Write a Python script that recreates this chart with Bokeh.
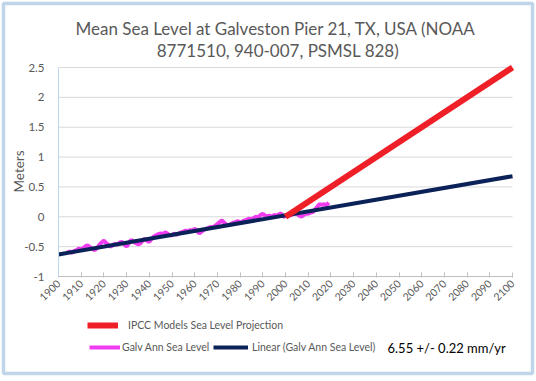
import math
from bokeh.plotting import figure
from bokeh.models import Range1d, NumeralTickFormatter, Label, Legend, LegendItem, BoxAnnotation
from bokeh.embed import file_html
from bokeh.resources import INLINE

# ---------------- data ----------------
years = list(range(1904, 2020))
sea_level = [
    -0.60, -0.58, -0.60, -0.57, -0.56, -0.53,            # 1904-1909
    -0.55, -0.52, -0.49, -0.48, -0.51, -0.54, -0.56, -0.52, -0.47, -0.43,  # 1910s
    -0.40, -0.44, -0.47, -0.50, -0.47, -0.45, -0.47, -0.43, -0.42, -0.46,  # 1920s
    -0.50, -0.44, -0.39, -0.41, -0.44, -0.46, -0.45, -0.40, -0.37, -0.40,  # 1930s
    -0.42, -0.37, -0.33, -0.31, -0.29, -0.28, -0.29, -0.26, -0.28, -0.31,  # 1940s
    -0.31, -0.28, -0.30, -0.28, -0.26, -0.25, -0.23, -0.25, -0.22, -0.24,  # 1950s
    -0.20, -0.23, -0.28, -0.25, -0.22, -0.20, -0.19, -0.17, -0.18, -0.15,  # 1960s
    -0.12, -0.09, -0.06, -0.10, -0.13, -0.14, -0.12, -0.10, -0.09, -0.07,  # 1970s
    -0.10, -0.08, -0.06, -0.05, -0.03, -0.04, -0.02, 0.00, -0.01, 0.03,    # 1980s
    0.05, 0.02, 0.01, 0.02, 0.00, 0.03, 0.02, 0.04, 0.06, 0.00,            # 1990s
    0.01, 0.03, 0.02, 0.04, 0.05, 0.05, 0.02, 0.00, 0.03, 0.05,            # 2000s
    0.05, 0.07, 0.08, 0.12, 0.17, 0.21, 0.20, 0.21, 0.19, 0.24,            # 2010s
]
proj_years = [2000, 2100]
proj_level = [0.0, 2.5]
trend_years = [1900, 2100]
trend_level = [-0.63, 0.68]
x_ticks = list(range(1900, 2101, 10))
y_ticks = [-1, -0.5, 0, 0.5, 1, 1.5, 2, 2.5]

title_line1 = "Mean Sea Level at Galveston Pier 21, TX, USA  (NOAA"
title_line2 = "8771510, 940-007, PSMSL 828)"
y_title = "Meters"
rate_text = "6.55 +/- 0.22 mm/yr"

# ---------------- style / layout ----------------
FONT = "Lato"
GRAY = "#595959"
MAG = "#F03CF0"
NAVY = "#0B2259"
RED = "#EE1F26"
BORDER = "#2E75B6"

W, H = 535, 380
FL, FR, FT, FB = 58, 512, 67, 276   # pixel corners of the plotting area

xpx = (FR - FL) / (x_ticks[-1] - x_ticks[0])
ypx = (FB - FT) / (y_ticks[-1] - y_ticks[0])
x_start = x_ticks[0] - FL / xpx
x_end = x_ticks[0] + (W - FL) / xpx
y_top = y_ticks[-1] + FT / ypx
y_bot = y_ticks[0] - (H - FB) / ypx


def dx(px):
    return x_start + px / xpx


def dy(py):
    return y_top - py / ypx


p = figure(width=W, height=H, output_backend="svg", toolbar_location=None,
           x_range=Range1d(x_start, x_end), y_range=Range1d(y_bot, y_top),
           min_border=0)
p.min_border_left = p.min_border_right = p.min_border_top = p.min_border_bottom = 0
p.title.visible = False
p.outline_line_color = None
p.background_fill_color = "white"
p.border_fill_color = "white"
p.xgrid.grid_line_color = None
p.ygrid.grid_line_color = None

# horizontal gridlines at the y ticks, spanning the plot area
grid_y = y_ticks[1:]
p.segment(x0=[x_ticks[0]] * len(grid_y), y0=grid_y,
          x1=[x_ticks[-1]] * len(grid_y), y1=grid_y,
          line_color="#D9D9D9", line_width=1)

# axes placed inside the frame
p.xaxis.fixed_location = y_ticks[0]
p.xaxis.bounds = (x_ticks[0], x_ticks[-1])
p.yaxis.fixed_location = x_ticks[0]
p.yaxis.bounds = (y_ticks[0], y_ticks[-1])

p.xaxis.ticker = x_ticks
p.yaxis.ticker = y_ticks
p.yaxis.formatter = NumeralTickFormatter(format="0.[0]")

p.yaxis.axis_line_color = "#BDD7EE"
p.yaxis.major_tick_line_color = None
p.yaxis.minor_tick_line_color = None
p.yaxis.major_label_text_font = FONT
p.yaxis.major_label_text_font_size = "11.5px"
p.yaxis.major_label_text_color = GRAY
p.yaxis.major_label_standoff = 8

p.xaxis.axis_line_color = "#BFBFBF"
p.xaxis.major_tick_line_color = "#BFBFBF"
p.xaxis.major_tick_in = 4
p.xaxis.major_tick_out = 1
p.xaxis.minor_tick_line_color = None
p.xaxis.major_label_orientation = math.pi / 4
p.xaxis.major_label_text_font = FONT
p.xaxis.major_label_text_font_size = "10.5px"
p.xaxis.major_label_text_color = GRAY
p.xaxis.major_label_standoff = 4

r_mag = p.line(years, sea_level, line_color=MAG, line_width=4)
r_navy = p.line(trend_years, trend_level, line_color=NAVY, line_width=4)
r_red = p.line(proj_years, proj_level, line_color=RED, line_width=6)

# title
for txt, py in ((title_line1, 28), (title_line2, 50)):
    p.add_layout(Label(x=dx(277.5), y=dy(py), text=txt, text_align="center",
                       text_baseline="middle", text_font=FONT,
                       text_font_size="17px", text_color=GRAY))

# y axis title
p.add_layout(Label(x=dx(18), y=dy(171), text=y_title, angle=math.pi / 2,
                   text_align="center", text_baseline="middle", text_font=FONT,
                   text_font_size="13.5px", text_color=GRAY))

common = dict(orientation="horizontal", padding=0, margin=0, spacing=0,
              glyph_height=12, label_height=12,
              label_text_font=FONT, label_text_font_size="10.5px",
              label_text_color=GRAY, border_line_color=None,
              background_fill_alpha=0)

legends = [
    Legend(items=[LegendItem(label="IPCC Models Sea Level Projection", renderers=[r_red])],
           location=(87, H - 331), glyph_width=31, label_standoff=10, **common),
    Legend(items=[LegendItem(label="Galv Ann Sea Level", renderers=[r_mag])],
           location=(89, H - 353), glyph_width=31, label_standoff=2, **common),
    Legend(items=[LegendItem(label="Linear (Galv Ann Sea Level)", renderers=[r_navy])],
           location=(213, H - 353), glyph_width=35, label_standoff=4, **common),
]
for lg in legends:
    p.add_layout(lg, "center")

p.add_layout(Label(x=dx(387), y=dy(347), text=rate_text, text_align="left",
                   text_baseline="middle", text_font=FONT,
                   text_font_size="13px", text_color="black"))

# chart border
p.add_layout(BoxAnnotation(left=dx(3), right=dx(532), top=dy(3), bottom=dy(373),
                           fill_color=None, line_color=BORDER, line_width=3.5))

open("out.html", "w").write(file_html(p, INLINE))
